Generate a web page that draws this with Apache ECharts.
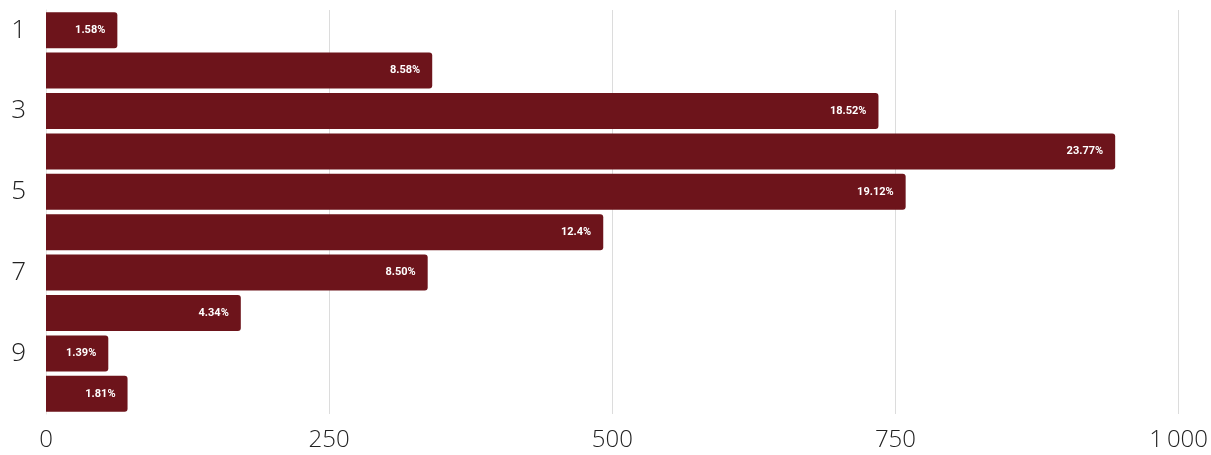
<!DOCTYPE html>
<html><head><meta charset="utf-8">
<script src="https://cdn.jsdelivr.net/npm/echarts@6/dist/echarts.min.js"></script>
<style>html,body{margin:0;padding:0;background:#fff}#c{width:1211px;height:455px}</style>
</head><body><div id="c"></div>
<script>
var categories = ['1','2','3','4','5','6','7','8','9','10'];
var values = [63, 341, 735, 944, 759, 492, 337, 172, 55, 72];
var pctLabels = ['1.58%','8.58%','18.52%','23.77%','19.12%','12.4%','8.50%','4.34%','1.39%','1.81%'];
var xTicks = [0, 250, 500, 750, 1000];

var chart = echarts.init(document.getElementById('c'), null, {renderer:'canvas'});
chart.setOption({
  animation: false,
  grid: {left: 46, right: 32, top: 10, bottom: 41, containLabel: false},
  xAxis: {
    type: 'value', min: 0, max: 1000, interval: 250,
    axisLine: {show: false}, axisTick: {show: false},
    splitLine: {lineStyle: {color: '#dcdcdc', width: 1}},
    axisLabel: {
      fontFamily: 'Open Sans', fontWeight: 300, fontSize: 24, color: '#222', margin: 14,
      formatter: function(v){ return v >= 1000 ? String(v).replace(/\B(?=(\d{3})+(?!\d))/g, '\u2009') : String(v); }
    }
  },
  yAxis: {
    type: 'category', data: categories, inverse: true,
    axisLine: {show: true, lineStyle: {color: '#e6e6e6'}}, axisTick: {show: false},
    axisLabel: {interval: 1, fontFamily: 'Open Sans', fontWeight: 300, fontSize: 26, color: '#222', margin: 20}
  },
  series: [{
    type: 'bar', data: values, barCategoryGap: '11%',
    itemStyle: {color: '#6d141b', borderRadius: [0, 3, 3, 0]},
    label: {
      show: true, position: 'insideRight', distance: 12,
      color: '#fff', fontFamily: 'Roboto', fontWeight: 'bold', fontSize: 11,
      formatter: function(p){ return pctLabels[p.dataIndex]; }
    }
  }]
});
</script></body></html>
